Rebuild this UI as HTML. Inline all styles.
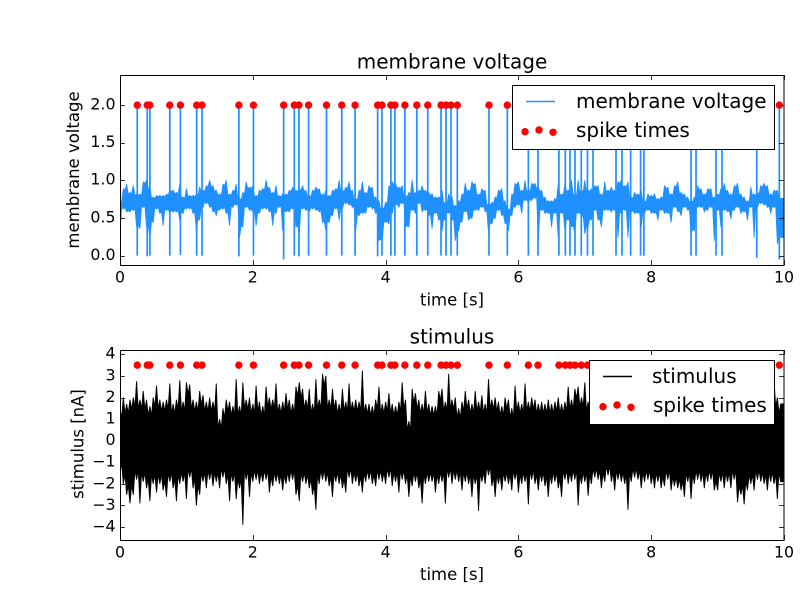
<!DOCTYPE html>
<html>
<head>
<meta charset="utf-8">
<title>membrane voltage and stimulus</title>
<style>
html,body{margin:0;padding:0;background:#fff;width:800px;height:600px;overflow:hidden}
svg{display:block}
text{font-family:"DejaVu Sans","Liberation Sans",sans-serif;fill:#000}
.tick{font-size:15.8px}
.lab{font-size:16.5px}
.ttl{font-size:20px}
.leg{font-size:20px}
</style>
</head>
<body>
<svg id="chart" width="800" height="600" viewBox="0 0 800 600">
<defs>
<clipPath id="clipTop"><rect x="120" y="75" width="664" height="190"/></clipPath>
<clipPath id="clipBottom"><rect x="120" y="350" width="664" height="190"/></clipPath>
</defs>
<rect x="0" y="0" width="800" height="600" fill="#fff"/>
<g id="top"></g>
<g id="bottom"></g>
<g>
<rect x="512.5" y="85.5" width="262" height="64" fill="#fff" stroke="#000" stroke-width="1"/>
<line x1="526" y1="101.5" x2="555" y2="101.5" stroke="#1e90ff" stroke-width="1.39"/>
<text class="leg" x="576" y="108">membrane voltage</text>
<circle cx="525" cy="131.7" r="3.7" fill="#f00"/>
<circle cx="539" cy="130" r="3.7" fill="#f00"/>
<circle cx="553" cy="132.3" r="3.7" fill="#f00"/>
<text class="leg" x="576" y="137">spike times</text>
</g>
<g>
<rect x="589.5" y="360.5" width="185" height="64" fill="#fff" stroke="#000" stroke-width="1"/>
<line x1="603" y1="376.5" x2="632" y2="376.5" stroke="#000" stroke-width="1.39"/>
<text class="leg" x="652" y="383">stimulus</text>
<circle cx="603" cy="406.7" r="3.7" fill="#f00"/>
<circle cx="617" cy="405" r="3.7" fill="#f00"/>
<circle cx="631" cy="407.3" r="3.7" fill="#f00"/>
<text class="leg" x="653" y="412">spike times</text>
</g>
</svg>
<script>
var spikeTimes = [0.26,0.41,0.45,0.75,0.91,1.155,1.235,1.79,2.01,2.465,2.625,2.695,2.84,3.11,3.34,3.54,3.88,3.945,4.08,4.14,4.29,4.47,4.635,4.835,4.91,4.985,5.08,5.557,5.833,6.15,6.295,6.61,6.707,6.777,6.852,6.947,7.04,7.124,7.47,7.56,7.69,7.84,7.89,8.6,8.675,8.976,9.066,9.59,9.93];
var spikeTroughs = [0,-0.01,0,0,0.01,0,0,-0.01,0,-0.05,0,-0.01,0,0,0,0,-0.01,0,0,0,0,0,0,0,0,0,0,0,0,0,0,0,0,0,0,0,0,0,0,0,0,0,0,0,0,0,0,-0.03,-0.05];
var voltageUpper = [.73,.89,.95,.84,.93,.82,.82,.98,1.0,.91,.78,.80,.80,.80,.82,.87,.87,.84,.95,.78,.89,.80,.80,.82,.91,.87,.93,1.0,.93,.87,.82,.95,1.0,.82,.87,.95,.76,.84,.98,.91,.93,.80,.87,.89,1.0,.91,.84,.93,.80,.82,.82,.87,.91,.87,.89,.93,.87,.80,.87,.91,.89,.82,.87,.80,.87,.89,1.0,.87,.91,
.98,.87,.76,.87,.98,.84,.93,.91,.78,.73,.64,.71,.93,.98,.96,.91,.93,.80,.84,1.0,.84,.87,.93,.87,.84,.82,.78,.78,.87,.71,.82,.78,.67,.73,.82,.96,.87,.98,.96,.82,.89,.87,.69,.71,.78,.87,.89,.73,.62,.82,.96,.98,.87,1.0,.87,.96,.96,.91,.87,.78,.73,.73,.76,.96,
.82,.96,.87,1.0,.82,1.0,.87,1.0,.87,.89,.93,.93,.82,.98,.87,.91,.87,.98,1.0,.93,.98,.78,.84,.82,.87,.73,.82,.80,.82,.76,.78,.93,.91,.82,.93,.98,.84,.82,.78,.73,.78,.93,.89,.82,.89,.89,.78,.82,.89,.96,.87,.82,.93,.96,.82,.78,.73,.91,.82,.84,.93,.96,.93,.82,.87,.87,.76];
var voltageLower = [.29,.62,.58,.58,.60,.38,.36,.64,.38,.24,.44,.62,.56,.40,.60,.56,.58,.58,.47,.56,.62,.62,.56,.33,.47,.64,.69,.64,.58,.53,.60,.62,.56,.40,.64,.67,.24,.38,.64,.60,.58,.40,.56,.62,.62,.58,.40,.56,.64,.33,.58,.58,.62,.38,.29,.62,.60,.58,.62,.60,.58,.44,.33,.44,.53,.62,.47,.62,.69,
.67,.64,.33,.53,.56,.56,.64,.62,.56,.20,.20,.44,.42,.56,.67,.64,.69,.38,.38,.60,.56,.69,.58,.60,.53,.36,.56,.47,.33,.47,.56,.47,.20,.33,.44,.58,.47,.49,.60,.60,.64,.58,.29,.42,.49,.60,.53,.42,.33,.53,.64,.67,.56,.73,.69,.73,.76,.20,.60,.56,.56,.38,.56,.24,
.56,.33,.47,.38,.29,.56,.51,.29,.38,.47,.60,.47,.38,.60,.60,.58,.60,.24,.56,.60,.24,.58,.56,.56,.38,.56,.60,.56,.56,.47,.60,.56,.56,.44,.64,.58,.53,.64,.60,.29,.33,.64,.64,.58,.60,.64,.20,.60,.38,.60,.58,.49,.60,.64,.56,.58,.47,.64,.24,.64,.69,.67,.64,.56,.64,.16,.24];
var stimulusUpper = [1.5,2.0,1.7,1.9,2.0,2.75,1.9,2.3,1.9,1.6,2.0,2.55,1.9,1.8,1.9,2.65,1.7,1.9,2.8,1.8,2.7,2.6,1.9,1.8,2.3,2.1,1.8,2.0,1.8,2.65,1.0,1.5,1.9,1.8,1.6,2.85,1.6,2.7,1.9,2.0,1.7,2.55,1.8,1.6,2.5,2.0,1.9,2.65,1.7,1.8,2.2,1.9,1.7,2.5,2.7,2.4,1.9,2.4,1.7,2.85,1.9,3.1,3.0,1.9,2.4,1.9,1.7,2.4,1.8,2.65,1.8,1.9,1.8,3.25,1.7,1.7,1.6,1.9,2.5,1.7,1.8,2.2,1.7,1.6,1.8,2.7,1.9,0.9,2.4,2.2,1.9,1.7,2.3,1.7,1.6,1.6,2.3,2.4,1.8,
3.1,1.9,2.0,1.5,1.8,2.3,1.9,1.7,2.3,1.8,2.1,1.7,2.85,1.9,2.0,1.8,1.6,2.0,1.9,1.5,2.55,1.8,1.7,2.65,1.8,2.0,1.9,1.7,1.8,1.7,1.9,1.7,1.8,2.0,1.7,1.8,2.5,1.9,2.4,2.5,2.0,2.7,
1.8,1.9,2.0,1.7,1.8,1.9,1.8,1.7,2.0,1.9,1.8,2.1,1.7,1.8,1.9,2.0,1.8,1.7,1.9,1.8,2.0,1.7,1.8,1.9,1.8,2.0,1.9,1.7,1.8,1.9,1.8,2.0,1.7,1.9,1.8,1.8,1.9,2.0,1.7,1.8,1.9,1.8,1.7,2.0,1.8,1.9,1.8,1.7,1.9,1.8,1.9,2.0,1.7,1.8,1.9,
1.7,2.8,2.0,1.7];
var stimulusLower = [-1.5,-2.0,-2.5,-2.9,-2.5,-1.8,-2.9,-1.9,-2.2,-2.8,-2.0,-2.4,-2.0,-2.3,-2.6,-1.9,-2.2,-2.8,-2.0,-1.9,-2.7,-1.7,-2.2,-3.0,-2.5,-1.9,-2.2,-1.8,-2.1,-1.9,-2.2,-1.7,-2.0,-2.8,-1.9,-2.7,-2.2,-3.9,-1.8,-2.6,-1.9,-1.8,-2.0,-1.9,-1.8,-2.4,-2.1,-1.9,-2.0,-2.3,-2.0,-1.9,-1.8,-2.5,-2.8,-1.9,-2.0,-2.2,-2.5,-3.2,-2.0,-1.8,-1.9,-2.1,-2.6,-1.9,-2.0,-2.2,-2.4,-1.7,-2.0,-1.9,-2.1,-2.4,-1.9,-1.8,-2.0,-2.1,-1.8,-1.9,-2.0,-1.7,-2.1,-1.9,-2.4,-1.8,-2.0,-2.6,-2.1,-1.9,-2.2,-2.9,-2.0,-1.9,-1.9,-2.4,-2.0,-1.9,-2.9,
-1.7,-2.0,-1.8,-1.9,-2.3,-1.9,-2.0,-2.6,-2.0,-3.25,-1.9,-2.0,-1.6,-2.1,-2.6,-2.0,-2.3,-1.9,-2.0,-2.3,-1.8,-2.4,-2.0,-1.9,-2.95,-1.8,-2.0,-2.3,-1.9,-2.1,-2.6,-2.0,-1.9,-2.2,-2.6,-1.8,-2.0,-1.9,-1.8,-3.0,-2.0,-1.9,-2.55,-2.0,-1.7,-1.8,-2.2,-1.9,-1.6,-1.9,-2.3,-1.8,-1.9,-2.0,-3.2,-1.9,-1.7,-1.8,-2.2,-1.9,-1.8,-2.0,-2.2,-1.9,-2.2,-2.1,-1.8,-2.3,-2.1,-2.2,-2.3,-2.6,-1.9,-2.7,-2.0,-1.8,-1.9,-2.2,-1.9,-1.8,-2.3,-2.3,-1.9,-2.2,-1.9,-2.2,-1.8,-2.85,-2.5,-2.95,-2.3,-2.0,-2.3,-1.8,-1.9,-2.0,-2.3,-1.9,-2.0,-2.7,-1.9];
var xTickValues = [0,2,4,6,8,10];
var xTickLabels = ["0","2","4","6","8","10"];
var voltageTickValues = [0,0.5,1,1.5,2];
var voltageTickLabels = ["0.0","0.5","1.0","1.5","2.0"];
var stimulusTickValues = [-4,-3,-2,-1,0,1,2,3,4];
var stimulusTickLabels = ["\u22124","\u22123","\u22122","\u22121","0","1","2","3","4"];
var sampleStep = 0.05;
var voltageMarker = 2.0;
var stimulusMarker = 3.5;

var SVG_NS = "http://www.w3.org/2000/svg";
function xScale(t){ return 120 + t / 10 * 664; }
function yTop(v){ return 75 + (2.4 - v) / 2.525 * 190; }
function yBottom(v){ return 350 + (4.2 - v) / 8.8 * 190; }

function make(parent, tag, attrs, name, text){
  var el = document.createElementNS(SVG_NS, tag);
  for (var k in attrs) el.setAttribute(k, attrs[k]);
  
  
  if (text !== undefined) el.textContent = text;
  parent.appendChild(el);
  return el;
}

function pt(t, v, y){ return xScale(t).toFixed(2) + "," + y(v).toFixed(2); }

function bandPath(upper, lower, y, notch){
  var n = Math.min(upper.length, lower.length);
  var top = [], bot = [], i, t;
  for (i = 0; i < n; i++){
    t = i * sampleStep;
    top.push(pt(t, upper[i], y));
    if (i < n - 1) top.push(pt(t + sampleStep / 2, Math.min(upper[i], upper[i + 1]) - notch, y));
  }
  top.push(pt(10, upper[n - 1], y));
  bot.push(pt(10, lower[n - 1], y));
  for (i = n - 1; i >= 0; i--){
    t = i * sampleStep;
    bot.push(pt(t, lower[i], y));
    if (i > 0) bot.push(pt(t - sampleStep / 2, Math.max(lower[i], lower[i - 1]) + notch, y));
  }
  return "M" + top.concat(bot).join("L") + "Z";
}

function spikePath(times, troughs, peak, y){
  var d = "";
  for (var i = 0; i < times.length; i++){
    d += "M" + pt(times[i], peak, y) + "L" + pt(times[i], troughs[i], y);
  }
  return d;
}

function drawAxes(g, top, bottom, y, yVals, yLabs, prefix){
  var i, px;
  for (i = 0; i < xTickValues.length; i++){
    px = Math.round(xScale(xTickValues[i])) + 0.5;
    make(g, "line", {x1:px, x2:px, y1:bottom, y2:bottom - 5, stroke:"#000", "stroke-width":0.8}, prefix + "-x-tick-bottom");
    make(g, "line", {x1:px, x2:px, y1:top, y2:top + 5, stroke:"#000", "stroke-width":0.8}, prefix + "-x-tick-top");
    make(g, "text", {x:xScale(xTickValues[i]), y:bottom + 17.3, "text-anchor":"middle", "class":"tick"}, prefix + "-x-tick-label", xTickLabels[i]);
  }
  for (i = 0; i < yVals.length; i++){
    px = Math.round(y(yVals[i])) + 0.5;
    make(g, "line", {x1:120, x2:125, y1:px, y2:px, stroke:"#000", "stroke-width":0.8}, prefix + "-y-tick-left");
    make(g, "line", {x1:784, x2:779, y1:px, y2:px, stroke:"#000", "stroke-width":0.8}, prefix + "-y-tick-right");
    make(g, "text", {x:115.5, y:y(yVals[i]) + 4.4, "text-anchor":"end", "class":"tick"}, prefix + "-y-tick-label", yLabs[i]);
  }
  make(g, "rect", {x:120.5, y:top + 0.5, width:663.5, height:190, fill:"none", stroke:"#000", "stroke-width":1}, prefix + "-axes-frame");
}

var gTop = document.getElementById("top");
var gBottom = document.getElementById("bottom");

make(gTop, "path", {d:bandPath(voltageUpper, voltageLower, yTop, 0.02), fill:"#1e90ff", stroke:"#1e90ff", "stroke-width":0.8, "stroke-linejoin":"round", "clip-path":"url(#clipTop)"}, "membrane-voltage-line");
make(gTop, "path", {d:spikePath(spikeTimes, spikeTroughs, voltageMarker, yTop), fill:"none", stroke:"#1e90ff", "stroke-width":1.7, "clip-path":"url(#clipTop)"}, "membrane-voltage-spikes");
spikeTimes.forEach(function(t){
  make(gTop, "circle", {cx:xScale(t), cy:yTop(voltageMarker), r:3.7, fill:"#f00"}, "membrane-spike-marker");
});
drawAxes(gTop, 75, 265, yTop, voltageTickValues, voltageTickLabels, "membrane");
make(gTop, "text", {x:452, y:68.3, "text-anchor":"middle", "class":"ttl"}, "membrane-title", "membrane voltage");
make(gTop, "text", {x:452, y:305.5, "text-anchor":"middle", "class":"lab"}, "membrane-x-axis-title", "time [s]");
make(gTop, "text", {x:0, y:0, "text-anchor":"middle", "class":"lab", transform:"translate(79,170) rotate(-90)"}, "membrane-y-axis-title", "membrane voltage");

make(gBottom, "path", {d:bandPath(stimulusUpper, stimulusLower, yBottom, 0.45), fill:"#000", stroke:"#000", "stroke-width":0.9, "stroke-linejoin":"miter", "clip-path":"url(#clipBottom)"}, "stimulus-line");
spikeTimes.forEach(function(t){
  make(gBottom, "circle", {cx:xScale(t), cy:yBottom(stimulusMarker), r:3.7, fill:"#f00"}, "stimulus-spike-marker");
});
drawAxes(gBottom, 350, 540, yBottom, stimulusTickValues, stimulusTickLabels, "stimulus");
make(gBottom, "text", {x:452, y:343.3, "text-anchor":"middle", "class":"ttl"}, "stimulus-title", "stimulus");
make(gBottom, "text", {x:452, y:580, "text-anchor":"middle", "class":"lab"}, "stimulus-x-axis-title", "time [s]");
make(gBottom, "text", {x:0, y:0, "text-anchor":"middle", "class":"lab", transform:"translate(83.5,444) rotate(-90)"}, "stimulus-y-axis-title", "stimulus [nA]");
</script>
</body>
</html>
